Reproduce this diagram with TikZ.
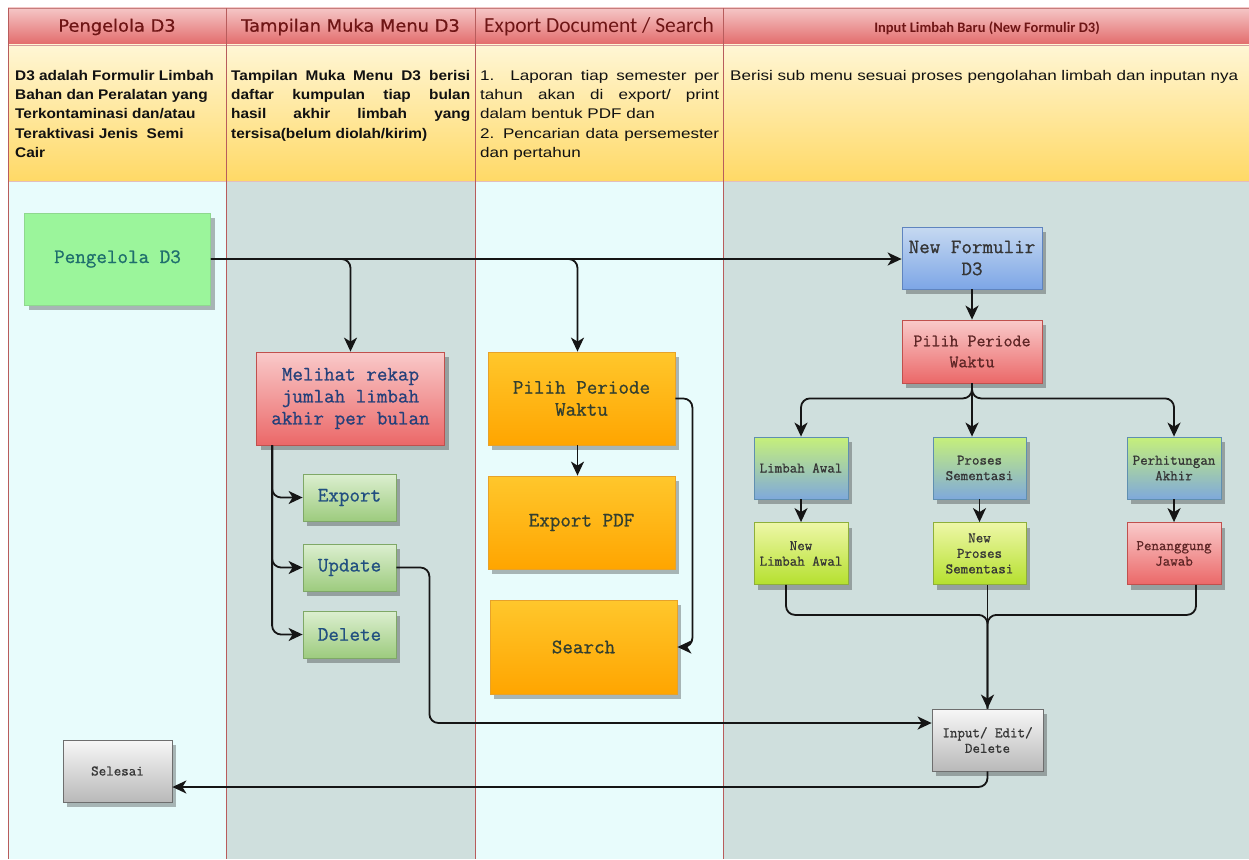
\documentclass[tikz,border=0pt]{standalone}
\usepackage{fontspec}
\usetikzlibrary{arrows.meta,shadows,calc}
\newfontfamily\hdrfont[FakeStretch=1.05,FakeBold=0.6]{DejaVu Sans}
\newfontfamily\calfont{Carlito}
\newfontfamily\descfont[FakeStretch=1.1]{Liberation Sans}
\newfontfamily\descnfont[FakeStretch=1.22]{Liberation Sans}
\newfontfamily\courfont[FakeBold=0.9]{Latin Modern Mono}
\definecolor{lanecyan}{HTML}{E8FCFC}
\definecolor{lanegray}{HTML}{CFDFDD}
\definecolor{sepred}{HTML}{B85C5C}
\definecolor{hdrtop}{HTML}{F5C6C6}
\definecolor{hdrbot}{HTML}{E26A6A}
\definecolor{hdrtxt}{HTML}{6E1515}
\definecolor{desctop}{HTML}{FFF6D5}
\definecolor{descbot}{HTML}{FFD966}
\definecolor{conn}{HTML}{151515}
\definecolor{desctxt}{HTML}{111111}
\definecolor{gfFill}{HTML}{9BF59B}
\definecolor{gfDraw}{HTML}{8FD88F}
\definecolor{gfText}{HTML}{1F6F6D}
\definecolor{rTop}{HTML}{F9CACA}
\definecolor{rBot}{HTML}{EB6868}
\definecolor{rDraw}{HTML}{C0504D}
\definecolor{melText}{HTML}{24407A}
\definecolor{rText}{HTML}{5E2626}
\definecolor{gTop}{HTML}{DCEFD0}
\definecolor{gBot}{HTML}{9DCB7E}
\definecolor{gDraw}{HTML}{7FA867}
\definecolor{gText}{HTML}{214F80}
\definecolor{oTop}{HTML}{FFC72C}
\definecolor{oBot}{HTML}{FFA500}
\definecolor{oDraw}{HTML}{E7A22A}
\definecolor{oText}{HTML}{333F30}
\definecolor{bTop}{HTML}{C6D9F1}
\definecolor{bBot}{HTML}{7DA6E6}
\definecolor{bDraw}{HTML}{5F84BF}
\definecolor{darkText}{HTML}{353535}
\definecolor{gbTop}{HTML}{C6F07A}
\definecolor{gbBot}{HTML}{7FA9DB}
\definecolor{gbDraw}{HTML}{5F8FB0}
\definecolor{ygTop}{HTML}{EEF7A8}
\definecolor{ygBot}{HTML}{B5E02E}
\definecolor{ygDraw}{HTML}{8EAF3A}
\definecolor{grTop}{HTML}{F7F7F7}
\definecolor{grBot}{HTML}{B9B9B9}
\definecolor{grDraw}{HTML}{6E6E6E}
\begin{document}
\begin{tikzpicture}[x=1pt,y=-1pt,
  box/.style={rectangle, inner sep=1pt, align=center, line width=0.8pt,
    drop shadow={shadow xshift=4pt,shadow yshift=-5pt,fill=black,opacity=0.28}},
  bigtxt/.style={font=\courfont\fontsize{20.5}{22}\selectfont},
  midtxt/.style={font=\courfont\fontsize{17.5}{21}\selectfont},
  smtxt/.style={font=\courfont\fontsize{14.6}{15.5}\selectfont},
  greenflat/.style={box, fill=gfFill, draw=gfDraw, text=gfText},
  redbox/.style={box, top color=rTop, bottom color=rBot, draw=rDraw},
  greenbox/.style={box, top color=gTop, bottom color=gBot, draw=gDraw, text=gText},
  orangebox/.style={box, top color=oTop, bottom color=oBot, draw=oDraw, text=oText},
  bluebox/.style={box, top color=bTop, bottom color=bBot, draw=bDraw, text=darkText},
  gbbox/.style={box, top color=gbTop, bottom color=gbBot, draw=gbDraw, text=darkText},
  ygbox/.style={box, top color=ygTop, bottom color=ygBot, draw=ygDraw, text=darkText},
  graybox/.style={box, top color=grTop, bottom color=grBot, draw=grDraw, text=darkText},
  ln/.style={draw=conn, line width=1.8pt, rounded corners=9pt},
  arr/.style={ln, -{Stealth[length=14pt,width=13pt,inset=4pt]}},
  hdr/.style={font=\hdrfont\fontsize{17}{20}\selectfont, text=hdrtxt},
  desc/.style={anchor=north west, inner sep=0pt, align=left, text=desctxt}
]
\useasboundingbox (0,0) rectangle (1249,859);
\fill[white] (0,0) rectangle (1249,859);
% lane backgrounds
\fill[lanecyan] (8,181) rectangle (226,859);
\fill[lanegray] (226,181) rectangle (475,859);
\fill[lanecyan] (475,181) rectangle (723,859);
\fill[lanegray] (723,181) rectangle (1249,859);
% header and description rows
\shade[top color=hdrtop, bottom color=hdrbot] (8,8) rectangle (1249,45);
\shade[top color=desctop, bottom color=descbot] (8,45) rectangle (1249,181);
\draw[sepred!80, line width=0.8pt] (8,8) -- (1249,8);
\draw[sepred!60, line width=0.8pt] (8,45) -- (1249,45);
\draw[sepred!40, line width=0.8pt] (8,181) -- (1249,181);
\foreach \xx in {8,226,475,723} {\draw[sepred, line width=0.8pt] (\xx,8) -- (\xx,859);}
% header texts
\node[hdr] (h1) at (117,27) {Pengelola D3};
\node[hdr] (h2) at (350.5,27) {Tampilan Muka Menu D3};
\node[font=\calfont\fontsize{21.5}{24}\selectfont, text=hdrtxt] (h3) at (599,27) {Export Document / Search};
\node[font=\calfont\bfseries\fontsize{14.5}{16}\selectfont, text=hdrtxt] (h4) at (987,28) {Input Limbah Baru (New Formulir D3)};
% descriptions
\node[desc, font=\descfont\bfseries\fontsize{14}{19.3}\selectfont] (d1) at (15,70)
  {D3 adalah Formulir Limbah\\Bahan dan Peralatan yang\\Terkontaminasi dan/atau\\Teraktivasi Jenis\ \ Semi\\Cair};
\node[desc, font=\descfont\bfseries\fontsize{14}{19.3}\selectfont] (d2) at (231,70)
  {\makebox[239pt][s]{Tampilan Muka Menu D3 berisi}\\
   \makebox[239pt][s]{daftar kumpulan tiap bulan}\\
   \makebox[239pt][s]{hasil akhir limbah yang}\\
   tersisa(belum diolah/kirim)};
\node[desc, font=\descnfont\fontsize{14}{19.3}\selectfont] (d3) at (480,70)
  {\makebox[239pt][s]{1. Laporan tiap semester per}\\
   \makebox[239pt][s]{tahun akan di export/ print}\\
   dalam bentuk PDF dan\\
   \makebox[239pt][s]{2. Pencarian data persemester}\\
   dan pertahun};
\node[desc, font=\descnfont\fontsize{14}{19.3}\selectfont] (d4) at (730,70)
  {Berisi sub menu sesuai proses pengolahan limbah dan inputan nya};
% nodes
\node[greenflat, bigtxt, minimum width=186pt, minimum height=92pt] (peng) at (117.5,259) {Pengelola D3};
\node[redbox, bigtxt, text=melText, minimum width=188pt, minimum height=93pt] (mel) at (350.5,398.5) {Melihat rekap\\jumlah limbah\\akhir per bulan};
\node[greenbox, bigtxt, minimum width=93pt, minimum height=47pt] (exp) at (349.5,497.5) {Export};
\node[greenbox, bigtxt, minimum width=93pt, minimum height=47pt] (upd) at (349.5,567.5) {Update};
\node[greenbox, bigtxt, minimum width=93pt, minimum height=47pt] (del) at (349.5,634.5) {Delete};
\node[orangebox, bigtxt, minimum width=187pt, minimum height=93pt] (pil3) at (581.5,398.5) {Pilih Periode\\Waktu};
\node[orangebox, bigtxt, minimum width=187pt, minimum height=93pt] (pdf) at (581.5,522.5) {Export PDF};
\node[orangebox, bigtxt, minimum width=187pt, minimum height=94pt] (srch) at (583.5,647) {Search};
\node[bluebox, bigtxt, minimum width=140pt, minimum height=62pt] (nf) at (972,258) {New Formulir\\D3};
\node[redbox, midtxt, text=rText, minimum width=140pt, minimum height=63pt] (pil4) at (972,351.5) {Pilih Periode\\Waktu};
\node[gbbox, smtxt, minimum width=94pt, minimum height=62pt] (lim) at (801,468) {Limbah Awal};
\node[gbbox, smtxt, minimum width=93pt, minimum height=62pt] (pro) at (979.5,468) {Proses\\Sementasi};
\node[gbbox, smtxt, minimum width=94pt, minimum height=62pt] (per) at (1174,468) {Perhitungan\\Akhir};
\node[ygbox, smtxt, minimum width=94pt, minimum height=62pt] (nlim) at (801,553.5) {New\\Limbah Awal};
\node[ygbox, smtxt, minimum width=93pt, minimum height=62pt] (npro) at (979.5,553.5) {New\\Proses\\Sementasi};
\node[redbox, smtxt, text=rText, minimum width=94pt, minimum height=62pt] (pj) at (1174,553.5) {Penanggung\\Jawab};
\node[graybox, smtxt, minimum width=111pt, minimum height=62pt] (inp) at (987.5,740) {Input/ Edit/\\Delete};
\node[graybox, smtxt, minimum width=109pt, minimum height=62pt] (sel) at (117.5,771) {Selesai};
% connectors
\draw[arr] (peng.east) -- (peng.east -| nf.west);
\draw[arr] (peng.east) -| (mel.north);
\draw[arr] (peng.east) -| ([xshift=-4pt]pil3.north);
\draw[arr] ([xshift=16pt]mel.south west) |- (exp.west);
\draw[arr] ([xshift=16pt]mel.south west) |- (upd.west);
\draw[arr] ([xshift=16pt]mel.south west) |- (del.west);
\draw[arr] (upd.east) -- ++(33,0) |- ([yshift=17pt]inp.west);
\draw[arr] ([xshift=-4pt]pil3.south) -- ([xshift=-4pt]pdf.north);
\draw[arr] (pil3.east) -- ++(17,0) |- (srch.east);
\draw[arr] (nf.south) -- (pil4.north);
\draw[arr] (pil4.south) -- ++(0,15) -| (lim.north);
\draw[arr] (pil4.south) -- (pil4.south |- pro.north);
\draw[arr] (pil4.south) -- ++(0,15) -| (per.north);
\draw[arr] (lim.south) -- (nlim.north);
\draw[arr] (pro.south) -- (npro.north);
\draw[arr] (per.south) -- (pj.north);
\coordinate (mg) at ([yshift=-30pt]inp.north |- npro.south);
\draw[ln] ([xshift=-15pt]nlim.south) |- (mg) -- (inp.north);
\draw[ln] ([xshift=22pt]pj.south) |- (mg) -- (inp.north);
\draw[arr] (npro.south -| inp.north) -- (inp.north);
\draw[arr] (inp.south) |- ([yshift=-16pt]sel.east);
\end{tikzpicture}
\end{document}
